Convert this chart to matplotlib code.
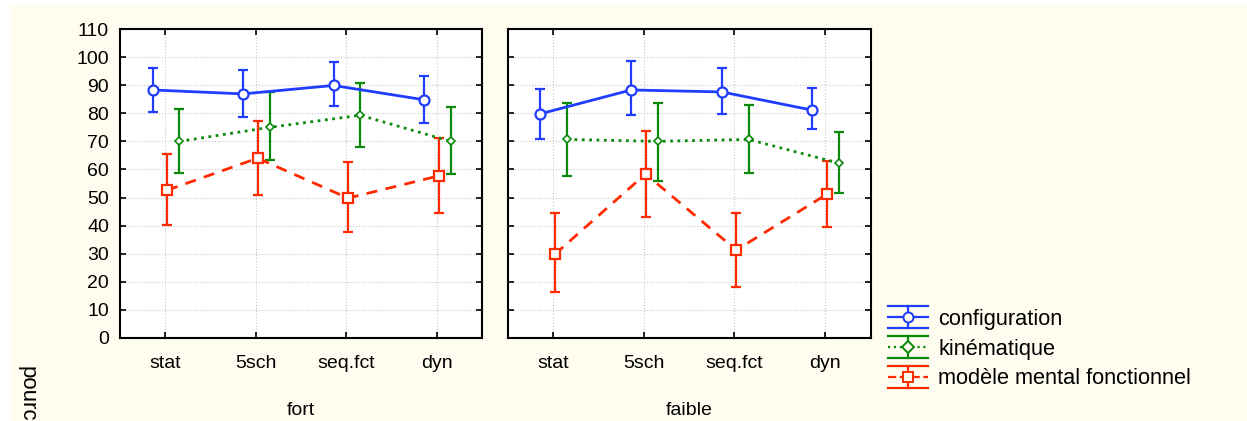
import numpy as np
import matplotlib.pyplot as plt
from matplotlib.lines import Line2D
from matplotlib.patches import Rectangle
from matplotlib.legend_handler import HandlerBase

plt.rcParams['font.family'] = ['Liberation Sans', 'DejaVu Sans']
plt.rcParams['font.size'] = 14

conditions = ['stat', '5sch', 'seq.fct', 'dyn']
groups = ['fort', 'faible']
series = ['configuration', 'kinématique', 'modèle mental fonctionnel']

# means / lower / upper for each group
config_mean = {'fort': [88.3, 86.9, 89.9, 84.8], 'faible': [79.8, 88.3, 87.6, 81.1]}
config_lo = {'fort': [80.6, 78.8, 82.5, 76.7], 'faible': [71.0, 79.4, 79.8, 74.3]}
config_hi = {'fort': [96.2, 95.4, 98.2, 93.2], 'faible': [88.6, 98.5, 96.2, 89.1]}

kine_mean = {'fort': [70.0, 75.0, 79.3, 70.0], 'faible': [70.7, 70.0, 70.7, 62.2]}
kine_lo = {'fort': [58.7, 63.3, 68.0, 58.4], 'faible': [57.8, 55.9, 58.9, 51.7]}
kine_hi = {'fort': [81.6, 87.5, 90.8, 82.4], 'faible': [83.5, 83.6, 82.9, 73.2]}

mmf_mean = {'fort': [52.6, 64.0, 49.8, 57.7], 'faible': [29.8, 58.4, 31.3, 51.2]}
mmf_lo = {'fort': [40.2, 50.8, 37.6, 44.6], 'faible': [16.2, 43.0, 18.1, 39.4]}
mmf_hi = {'fort': [65.4, 77.4, 62.5, 71.3], 'faible': [44.6, 73.7, 44.6, 63.1]}

styles = [
    dict(color='#1f3cff', ls='-', marker='o', ms=7.2, mew=1.6, offset=-0.14,
         mean=config_mean, lo=config_lo, hi=config_hi),
    dict(color='#0a8a0a', ls=':', marker='D', ms=4, mew=1.2, offset=0.155,
         mean=kine_mean, lo=kine_lo, hi=kine_hi),
    dict(color='#ff2a00', ls=(0, (4, 3)), marker='s', ms=7.5, mew=1.6, offset=0.02,
         mean=mmf_mean, lo=mmf_lo, hi=mmf_hi),
]

fig = plt.figure(figsize=(12.47, 4.21), dpi=100, facecolor='white')
fig.patches.append(Rectangle((10 / 1247, 0), 1, 1 - 5 / 421, transform=fig.transFigure,
                             facecolor='#fffcf0', edgecolor='none', zorder=-10))

ax1 = fig.add_axes([120 / 1247, 1 - 338 / 421, 362 / 1247, 309 / 421])
ax2 = fig.add_axes([507.7 / 1247, 1 - 338 / 421, 362.8 / 1247, 309 / 421])

x = np.arange(len(conditions))
for ax, g in zip([ax1, ax2], groups):
    for s in styles:
        m = np.array(s['mean'][g])
        err = [m - np.array(s['lo'][g]), np.array(s['hi'][g]) - m]
        xs = x + s['offset']
        ax.errorbar(xs, m, yerr=err, fmt='none', ecolor=s['color'], elinewidth=1.6,
                    capsize=3.5, capthick=1.6, zorder=3)
        ax.plot(xs, m, color=s['color'], ls=s['ls'], lw=2.0, marker=s['marker'],
                ms=s['ms'], mfc='white', mec=s['color'], mew=s['mew'], zorder=4)
    ax.set_xlim(-0.5, 3.5)
    ax.set_ylim(0, 110)
    ax.set_yticks(np.arange(0, 111, 10))
    ax.set_xticks(x)
    ax.set_xticklabels(conditions, fontsize=14)
    ax.grid(True, color='#c8c8c8', ls=':', lw=0.8)
    ax.set_axisbelow(True)
    ax.tick_params(direction='in', top=True, right=True, length=4, width=1.2, pad=12)
    ax.tick_params(axis='y', labelsize=14, pad=8)
    for sp in ax.spines.values():
        sp.set_linewidth(1.5)
    ax.set_xlabel(g, fontsize=14, labelpad=22)
    ax.set_facecolor('white')

ax2.tick_params(axis='y', labelleft=False)

fig.text(27 / 1247, 1 - 366 / 421, 'pourcentage', rotation=-90, fontsize=16,
         ha='center', va='top')


class HandlerStat(HandlerBase):
    def create_artists(self, legend, orig_handle, xdescent, ydescent, width, height,
                       fontsize, trans):
        c = orig_handle.get_color()
        yc = height / 2 - ydescent
        x0, x1 = -xdescent, -xdescent + width
        xm = (x0 + x1) / 2
        h = 8.0
        arts = [
            Line2D([x0, x1], [yc + h, yc + h], color=c, lw=1.6),
            Line2D([x0, x1], [yc - h, yc - h], color=c, lw=1.6),
            Line2D([xm, xm], [yc - h, yc + h], color=c, lw=1.6),
            Line2D([x0, x1], [yc, yc], color=c, lw=1.6, ls=orig_handle.get_linestyle()),
            Line2D([xm], [yc], marker=orig_handle.get_marker(), ms=orig_handle.get_markersize(),
                   mfc='#fffcf0', mec=c, mew=1.4, ls='none'),
        ]
        for a in arts:
            a.set_transform(trans)
        return arts


handles = [Line2D([], [], color=s['color'], ls=s['ls'], marker=s['marker'],
                  ms=s['ms'] * (1.5 if s['marker'] == 'D' else 1.0)) for s in styles]
fig.legend(handles, series, loc='upper left', bbox_to_anchor=(888 / 1247, 1 - 309 / 421),
           frameon=False, fontsize=15.7, handlelength=1.85, handletextpad=0.45,
           labelspacing=0.40, borderpad=0, borderaxespad=0,
           handler_map={Line2D: HandlerStat()})

fig.savefig('out.png', dpi=100, facecolor=fig.get_facecolor())
